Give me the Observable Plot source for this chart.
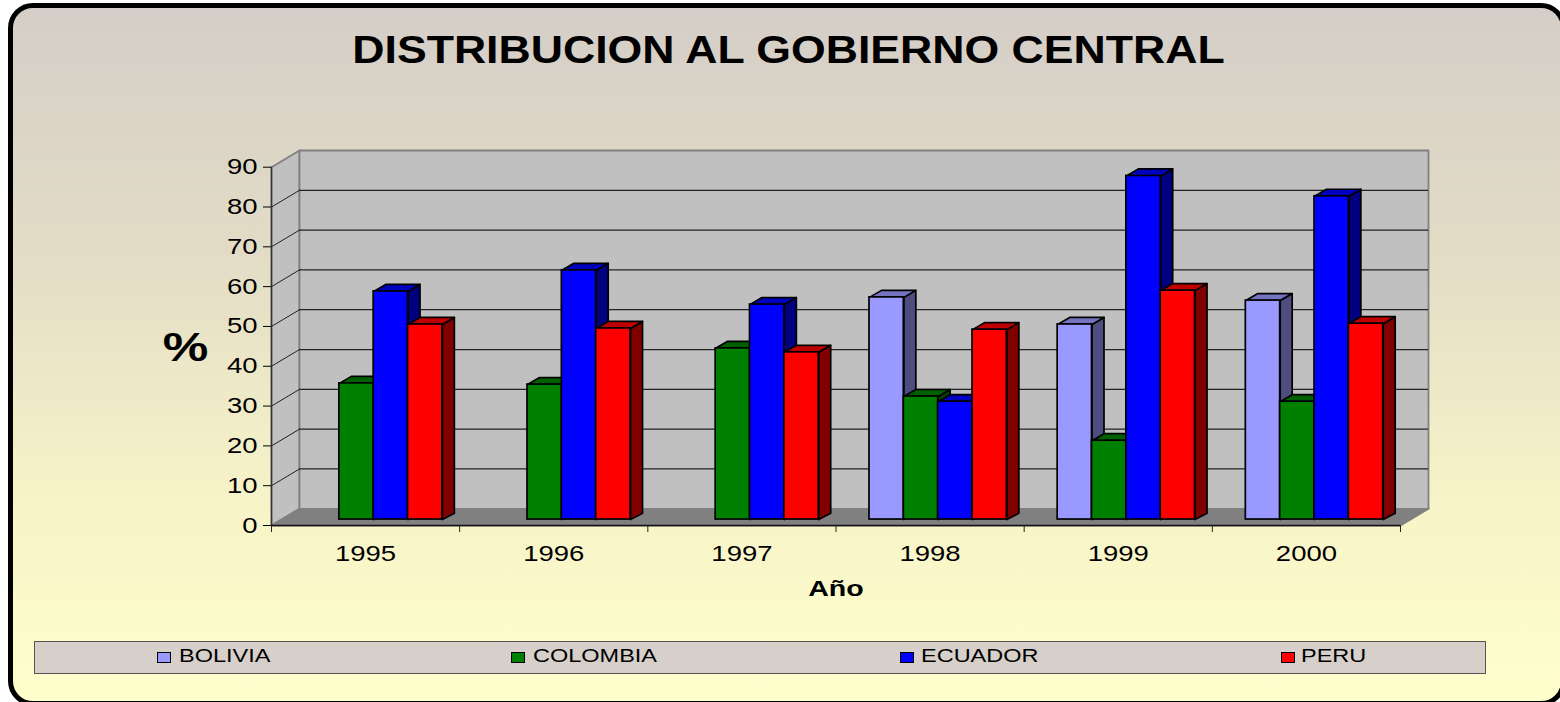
<!DOCTYPE html>
<html>
<head>
<meta charset="utf-8">
<script src="https://cdn.jsdelivr.net/npm/d3@7"></script>
<script src="https://cdn.jsdelivr.net/npm/@observablehq/plot@0.6"></script>
<style>
html,body{margin:0;padding:0;background:#fff;}
#page{position:relative;width:1560px;height:702px;overflow:hidden;font-family:"Liberation Sans",Arial,sans-serif;color:#000;}
#frame{position:absolute;left:8px;top:3px;width:1558px;height:703px;box-sizing:border-box;border:5px solid #000;border-radius:25px;
 background:linear-gradient(to bottom,#d5cec8 0%,#e2dcc6 35%,#f6f3c8 70%,#ffffcc 100%);}
#head{position:relative;height:120px;}
#title{position:absolute;left:0;width:1577px;top:25px;text-align:center;font-weight:bold;font-size:38px;line-height:50px;white-space:nowrap;transform:scaleX(1.174);transform-origin:788.5px center;}
#chart{position:relative;height:480px;}
#chart svg{display:block;background:transparent;}
#legend{position:absolute;left:34px;top:641px;width:1452px;height:33px;box-sizing:border-box;background:#d6cfca;border:1px solid #555;}
.sw{position:absolute;top:10px;width:14px;height:11px;box-sizing:border-box;border:1.5px solid #000;}
.lb{position:absolute;top:2px;font-size:18.5px;line-height:24px;transform:scaleX(1.27);transform-origin:left center;white-space:nowrap;}
</style>
</head>
<body>
<div id="page">
  <div id="frame"></div>
  <div id="head"><div id="title">DISTRIBUCION AL GOBIERNO CENTRAL</div></div>
  <div id="chart"></div>
  <div id="legend"></div>
</div>
<script>
const years = ["1995","1996","1997","1998","1999","2000"];
const countries = ["BOLIVIA","COLOMBIA","ECUADOR","PERU"];
const bolivia  = [null, null, null, 55.8, 49.0, 55.0];
const colombia = [34.2, 33.9, 43.0, 30.9, 19.8, 29.6];
const ecuador  = [57.3, 62.6, 54.0, 29.6, 86.3, 81.2];
const peru     = [49.0, 48.0, 42.0, 47.7, 57.5, 49.2];
const seriesValues = [bolivia, colombia, ecuador, peru];
const frontColors = ["#9999ff","#008000","#0000ff","#ff0000"];
const sideColors  = ["#4d4d80","#004000","#000080","#800000"];
const topColors   = ["#7373bf","#006000","#0000c0","#c00000"];
const yTicks = [0,10,20,30,40,50,60,70,80,90];
const legendSwatchX = [157,511,900,1281];
const legendTextX   = [179,533,921,1301];

// depth of the 3-D box, in data units of each axis
const wallDx = 0.1488, wallDy = 4.2;
const barStart = 0.178, barWidth = 0.1825, barDx = 0.0638, barDy = 1.76, baseDy = 1.5;

const bars = [];
years.forEach((year, i) => seriesValues.forEach((vals, s) => {
  if (vals[i] == null) return;
  const x1 = i + barStart + s * barWidth;
  bars.push({id:`${year}-${s}`, x1, x2:x1 + barWidth, y1:baseDy, y2:baseDy + vals[i], s});
}));
const facets = [];
bars.forEach(b => {
  const side = [[b.x2,b.y1],[b.x2+barDx,b.y1+barDy-.2],[b.x2+barDx,b.y2+barDy],[b.x2,b.y2],[b.x2,b.y1]];
  const top  = [[b.x1,b.y2],[b.x1+barDx,b.y2+barDy],[b.x2+barDx,b.y2+barDy],[b.x2,b.y2],[b.x1,b.y2]];
  side.forEach(p => facets.push({id:b.id+"s", x:p[0], y:p[1], c:sideColors[b.s]}));
  top.forEach(p => facets.push({id:b.id+"t", x:p[0], y:p[1], c:topColors[b.s]}));
});
const nCat = years.length, nMax = d3.max(yTicks);
const walls = [];
const poly = (id,c,pts)=>pts.concat([pts[0]]).forEach(p=>walls.push({id,c,x:p[0],y:p[1]}));
poly("side","#c0c0c0",[[0,0],[wallDx,wallDy],[wallDx,nMax+wallDy],[0,nMax]]);
poly("back","#c0c0c0",[[wallDx,wallDy],[nCat+wallDx,wallDy],[nCat+wallDx,nMax+wallDy],[wallDx,nMax+wallDy]]);
poly("floor","#808080",[[0,0],[nCat,0],[nCat+wallDx,wallDy],[wallDx,wallDy]]);
const sideGrid = yTicks.slice(1,-1).flatMap(t=>[{t,x:0,y:t},{t,x:wallDx,y:t+wallDy}]);

const chart = Plot.plot({
  width:1560, height:480,
  marginLeft:271, marginRight:160, marginTop:46.7, marginBottom:75,
  style:{background:"transparent", fontFamily:"'Liberation Sans',Arial,sans-serif", color:"#000"},
  x:{domain:[0,nCat], axis:null},
  y:{domain:[0,nMax], axis:null},
  color:{type:"identity"},
  marks:[
    Plot.line(walls,{x:"x",y:"y",z:"id",fill:"c",stroke:"#808080",strokeWidth:1.8}),
    Plot.ruleY(yTicks.slice(1,-1),{x1:wallDx,x2:nCat+wallDx,y:d=>d+wallDy,stroke:"#222",strokeWidth:1.3}),
    Plot.line(sideGrid,{x:"x",y:"y",z:"t",stroke:"#222",strokeWidth:1}),
    Plot.ruleY([0],{x1:0,x2:nCat,stroke:"#111",strokeWidth:1.6}),
    Plot.ruleX([0],{y1:0,y2:nMax,stroke:"#333",strokeWidth:1.4}),
    Plot.axisY({ticks:yTicks,tickSize:8,tickPadding:6,fontSize:22,color:"#000",label:null}),
    Plot.axisX({ticks:d3.range(nCat+1),tickSize:7,tickFormat:()=>"",label:null,color:"#222"}),
    Plot.axisX({ticks:years.map((_,i)=>i+0.5),tickSize:0,tickPadding:20,fontSize:22,
      tickFormat:v=>years[Math.floor(v)],label:null,color:"#000"}),
    Plot.text(["Año"],{x:nCat/2,y:-16,fontSize:22,fontWeight:"bold",fill:"#000"}),
    Plot.text(["%"],{x:-0.457,y:44.5,fontSize:41,fontWeight:"bold",fill:"#000"}),
    Plot.line(facets,{x:"x",y:"y",z:"id",fill:"c",stroke:"#000",strokeWidth:1.7,strokeLinejoin:"round"}),
    Plot.rect(bars,{x1:"x1",x2:"x2",y1:"y1",y2:"y2",fill:d=>frontColors[d.s],stroke:"#000",strokeWidth:1.7})
  ]
});
document.getElementById("chart").appendChild(chart);

// the reference's lettering is stretched sideways
chart.querySelectorAll("text").forEach(t=>{
  const tr = t.getAttribute("transform") || "";
  const k = t.textContent === "Año" ? 1.3 : 1.25;
  t.setAttribute("transform", tr + ` scale(${k},1)`);
});

const legend = document.getElementById("legend");
countries.forEach((name,i)=>{
  const sw=document.createElement("div");
  sw.className="sw"; sw.style.left=(legendSwatchX[i]-35)+"px"; sw.style.background=frontColors[i];
  const lb=document.createElement("div");
  lb.className="lb"; lb.style.left=(legendTextX[i]-35)+"px"; lb.textContent=name;
  legend.append(sw,lb);
});
</script>
</body>
</html>
